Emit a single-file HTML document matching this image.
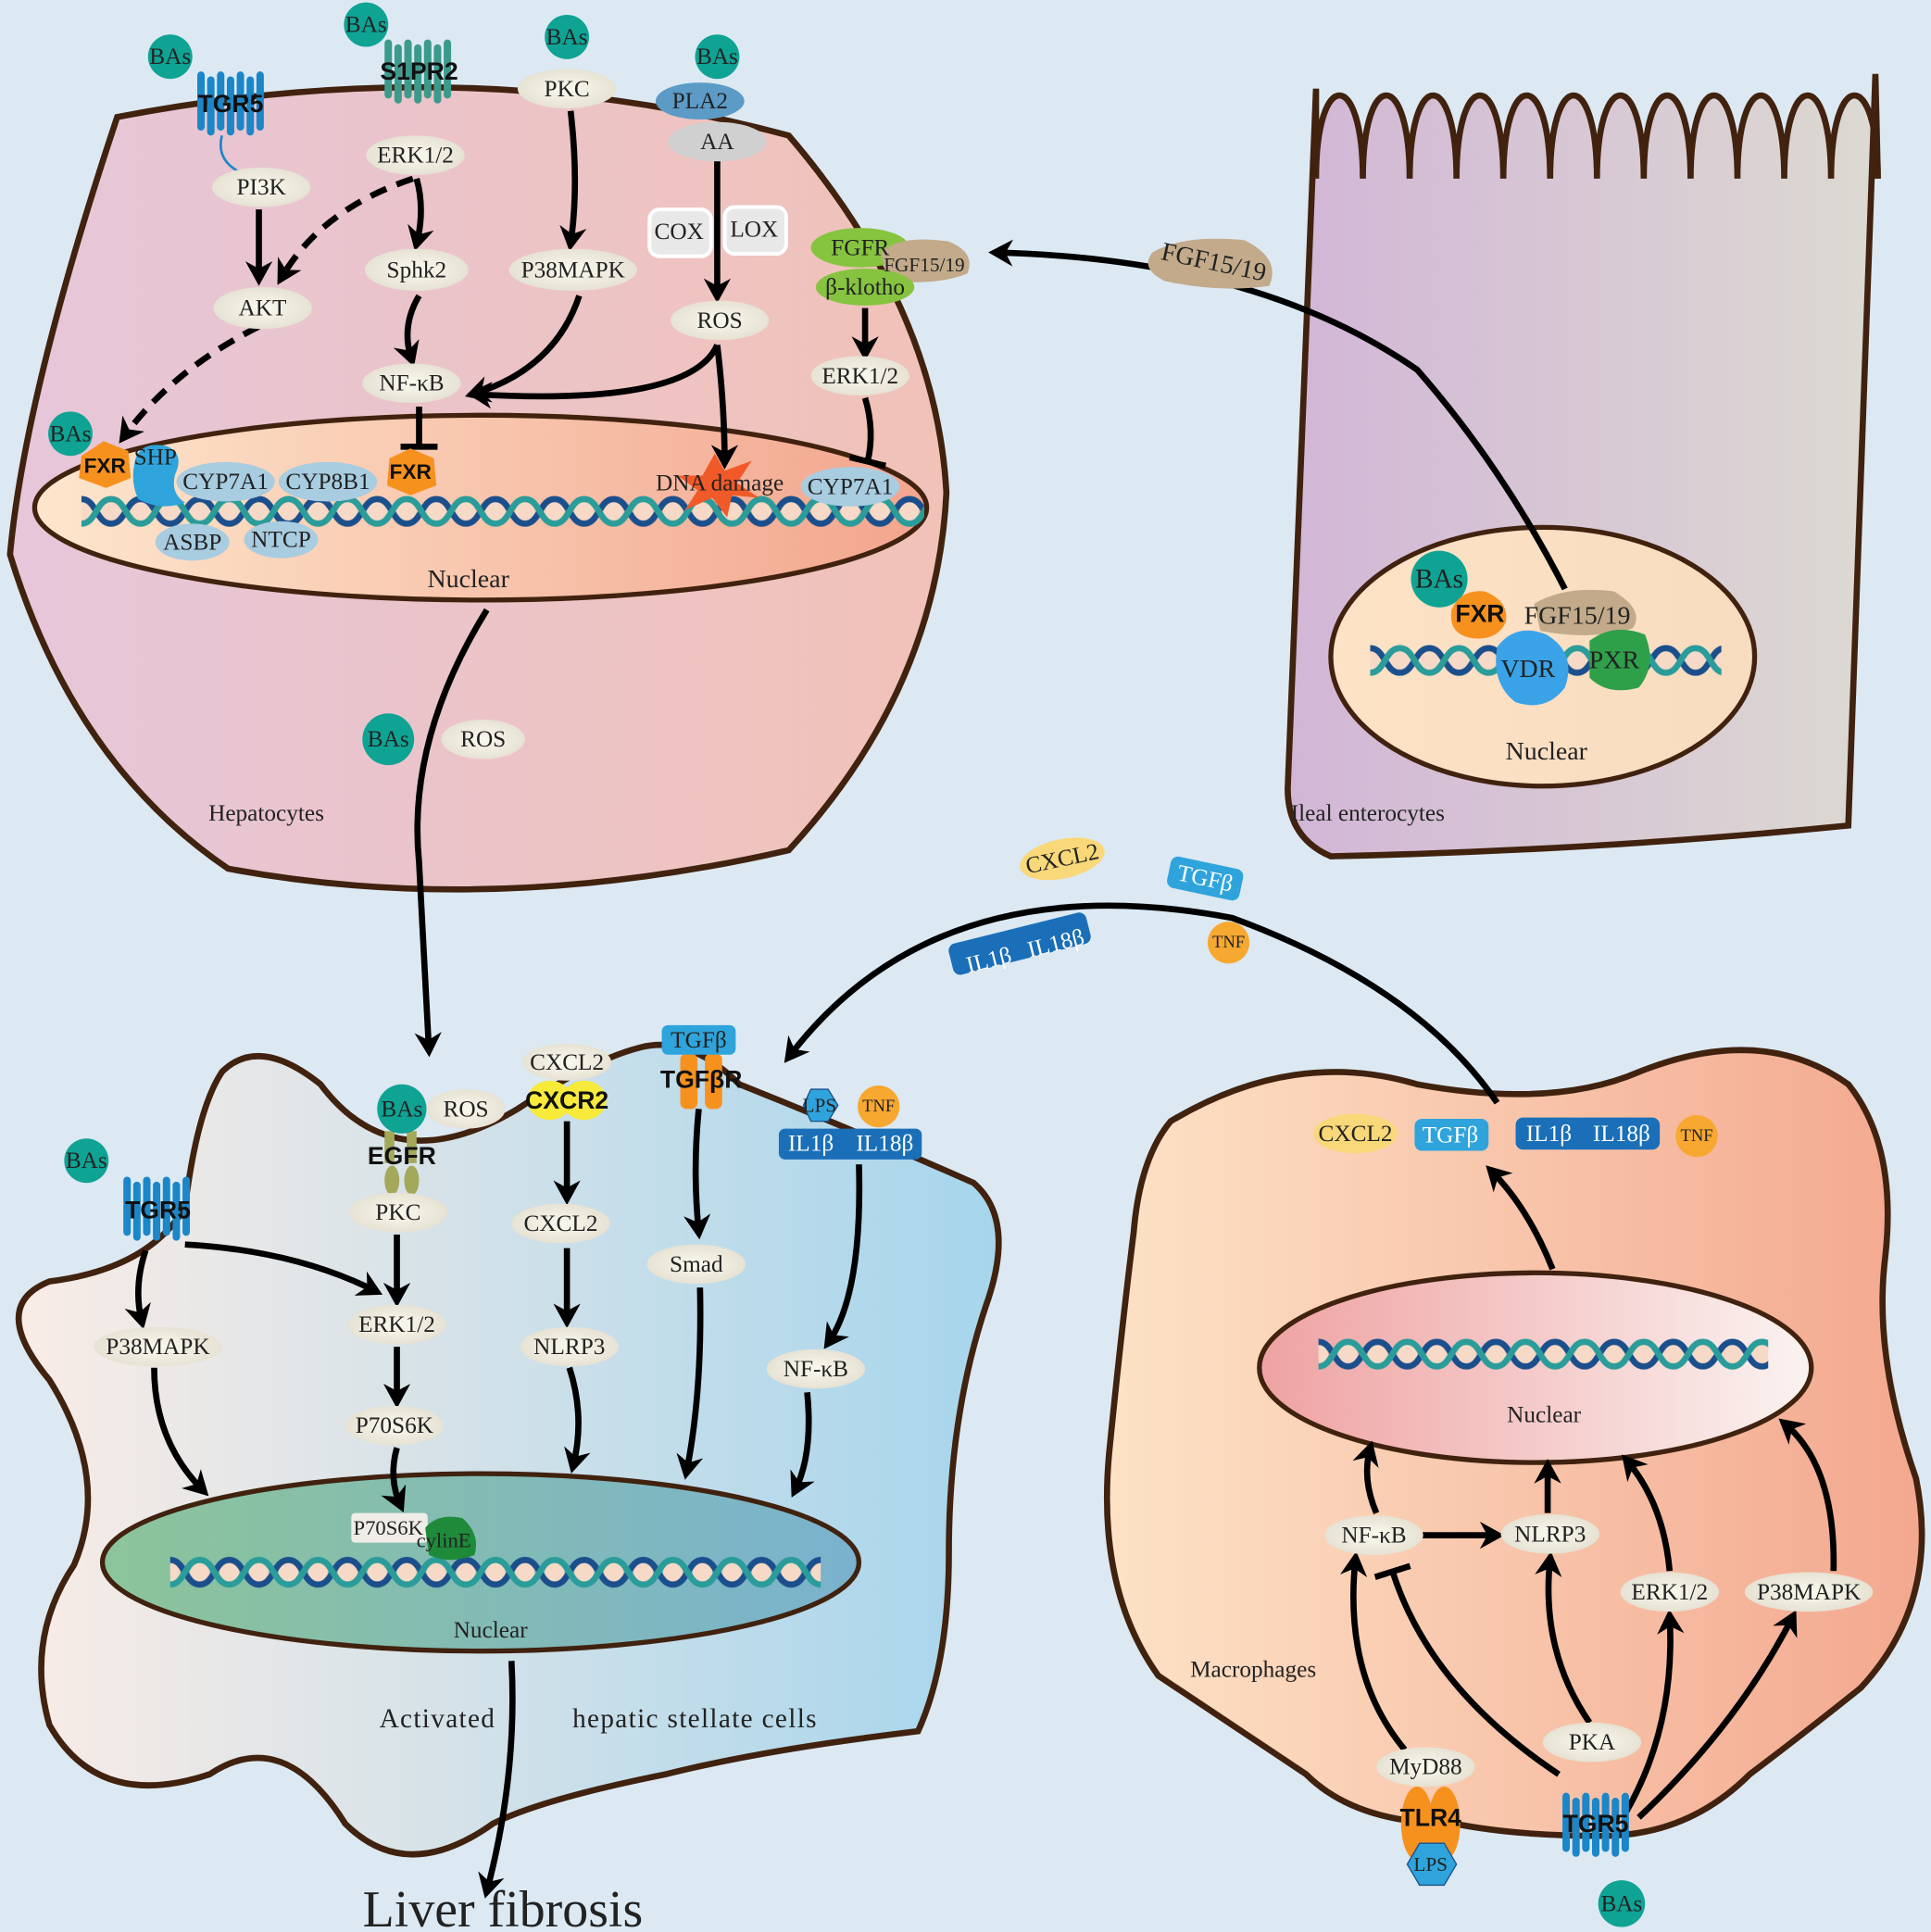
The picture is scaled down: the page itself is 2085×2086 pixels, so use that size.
<!DOCTYPE html>
<html><head><meta charset="utf-8"><style>
html,body{margin:0;padding:0;background:#dce9f3}
svg{display:block}
text{font-family:"Liberation Serif",serif;fill:#222}
.l{font-size:19px;text-anchor:middle;dominant-baseline:central}
.b{font-family:"Liberation Sans",sans-serif;font-weight:bold;font-size:20px;text-anchor:middle;dominant-baseline:central;fill:#111}
.a{fill:none;stroke:#000;stroke-width:5}
</style></head><body>
<svg width="2085" height="2086" viewBox="0 0 1567 1568" xmlns="http://www.w3.org/2000/svg">
<defs>
<marker id="ar" markerWidth="22" markerHeight="22" refX="14" refY="11" orient="auto" markerUnits="userSpaceOnUse"><path d="M0 0 L20 11 L0 22 L6 11Z" fill="#000"/></marker>
<marker id="tb" markerWidth="6" markerHeight="30" refX="3" refY="15" orient="auto" markerUnits="userSpaceOnUse"><rect x="0" y="0" width="5" height="30" fill="#000"/></marker>
<linearGradient id="gh" x1="0" x2="1"><stop offset="0" stop-color="#e6c6d9"/><stop offset="1" stop-color="#f1c2b8"/></linearGradient>
<linearGradient id="ghn" x1="0" x2="1"><stop offset="0" stop-color="#fde6cc"/><stop offset="1" stop-color="#f3a58e"/></linearGradient>
<linearGradient id="ge" x1="0" x2="1"><stop offset="0" stop-color="#d2b6d6"/><stop offset="1" stop-color="#dcd9d2"/></linearGradient>
<linearGradient id="gen" x1="0" x2="1"><stop offset="0" stop-color="#fde2c6"/><stop offset="1" stop-color="#f8dcc0"/></linearGradient>
<linearGradient id="gs" x1="0" x2="1"><stop offset="0" stop-color="#f9ece6"/><stop offset="1" stop-color="#a6d5ec"/></linearGradient>
<linearGradient id="gsn" x1="0" x2="1"><stop offset="0" stop-color="#8cc49a"/><stop offset="1" stop-color="#7ab2cf"/></linearGradient>
<linearGradient id="gm" x1="0" x2="1"><stop offset="0" stop-color="#fde2c6"/><stop offset="1" stop-color="#f3a88f"/></linearGradient>
<linearGradient id="gmn" x1="0" x2="1"><stop offset="0" stop-color="#efa2a2"/><stop offset="1" stop-color="#faf3f1"/></linearGradient>
<radialGradient id="lb"><stop offset="0" stop-color="#fbf9ee"/><stop offset="1" stop-color="#e6e2d4"/></radialGradient>
<pattern id="dna" width="48" height="28" patternUnits="userSpaceOnUse">
<circle cx="0" cy="14" r="8" fill="#f6d9c6"/><circle cx="24" cy="14" r="8" fill="#f6d9c6"/><circle cx="48" cy="14" r="8" fill="#f6d9c6"/>
<path d="M0 4 C12 4 12 24 24 24 C36 24 36 4 48 4" fill="none" stroke="#1b4f8c" stroke-width="5"/>
<path d="M0 24 C12 24 12 4 24 4 C36 4 36 24 48 24" fill="none" stroke="#2a9c9a" stroke-width="5"/>
</pattern>
<g id="rc"><rect x="0" y="0" width="6" height="48" rx="3"/><rect x="8" y="4" width="6" height="48" rx="3"/><rect x="16" y="0" width="6" height="48" rx="3"/><rect x="24" y="4" width="6" height="48" rx="3"/><rect x="32" y="0" width="6" height="48" rx="3"/><rect x="40" y="4" width="6" height="48" rx="3"/><rect x="48" y="0" width="6" height="48" rx="3"/></g>
</defs>
<rect width="1567" height="1568" fill="#dce9f3"/>

<!-- Hepatocyte -->
<path d="M95 95 Q380 40 640 110 Q760 250 768 400 Q760 560 640 690 Q400 745 185 705 Q60 620 8 450 Q20 320 95 95Z" fill="url(#gh)" stroke="#40220f" stroke-width="5"/>
<ellipse cx="390" cy="412" rx="362" ry="75" fill="url(#ghn)" stroke="#40220f" stroke-width="4"/>
<g transform="translate(66,401)"><rect width="684" height="28" fill="url(#dna)"/></g>

<!-- Enterocyte -->
<path d="M1068 72 L1068 145 c0 -90 38 -90 38 0 c0 -90 38 -90 38 0 c0 -90 38 -90 38 0 c0 -90 38 -90 38 0 c0 -90 38 -90 38 0 c0 -90 38 -90 38 0 c0 -90 38 -90 38 0 c0 -90 38 -90 38 0 c0 -90 38 -90 38 0 c0 -90 38 -90 38 0 c0 -90 38 -90 38 0 c0 -90 38 -90 38 0 L1522 60 L1500 670 Q1300 690 1080 695 Q1045 680 1045 640 L1068 72Z" fill="url(#ge)" stroke="#40220f" stroke-width="5"/>
<ellipse cx="1252" cy="533" rx="172" ry="105" fill="url(#gen)" stroke="#40220f" stroke-width="4"/>
<g transform="translate(1112,522)"><rect width="285" height="28" fill="url(#dna)"/></g>

<!-- HSC -->
<path d="M180 870 Q210 840 260 880 Q320 960 420 900 Q480 860 520 850 Q560 840 600 880 Q700 920 790 960 Q825 990 800 1060 Q770 1150 770 1260 Q770 1350 745 1405 Q620 1420 540 1440 Q440 1460 400 1480 Q330 1530 280 1480 Q230 1400 170 1440 Q80 1470 40 1400 Q20 1330 60 1270 Q90 1200 40 1120 Q-10 1060 40 1040 Q120 1030 150 980 Q160 900 180 870Z" fill="url(#gs)" stroke="#40220f" stroke-width="5"/>
<ellipse cx="390" cy="1268" rx="307" ry="72" fill="url(#gsn)" stroke="#40220f" stroke-width="4"/>
<g transform="translate(138,1262)"><rect width="528" height="28" fill="url(#dna)"/></g>

<!-- Macrophage -->
<path d="M950 910 Q1050 850 1150 880 Q1260 900 1330 870 Q1430 830 1500 880 Q1540 930 1530 1020 Q1520 1100 1555 1200 Q1575 1300 1510 1370 Q1460 1410 1420 1440 Q1370 1490 1300 1490 Q1230 1490 1180 1480 Q1100 1480 1060 1440 Q1000 1400 940 1360 Q890 1290 900 1180 Q910 1080 920 1000 Q925 940 950 910Z" fill="url(#gm)" stroke="#40220f" stroke-width="5"/>
<ellipse cx="1246" cy="1110" rx="224" ry="77" fill="url(#gmn)" stroke="#40220f" stroke-width="4"/>
<g transform="translate(1070,1085)"><rect width="365" height="28" fill="url(#dna)"/></g>

<!-- Big arrows -->
<path class="a" d="M395 495 Q330 600 340 700 Q345 790 348 852" marker-end="url(#ar)"/>
<path class="a" d="M1270 478 Q1220 380 1150 300 Q1020 210 808 205" marker-end="url(#ar)"/>
<path class="a" d="M1215 895 Q1150 800 1000 745 Q760 700 640 858" marker-end="url(#ar)"/>
<path class="a" d="M415 1348 Q420 1440 395 1535" marker-end="url(#ar)"/>

<!-- Hepatocyte arrows -->
<path class="a" d="M210 170 L210 226" marker-end="url(#ar)"/>
<path class="a" d="M335 145 Q260 170 228 226" stroke-dasharray="14 9" marker-end="url(#ar)"/>
<path class="a" d="M338 145 Q345 170 338 198" marker-end="url(#ar)"/>
<path class="a" d="M340 240 Q325 265 334 292" marker-end="url(#ar)"/>
<path class="a" d="M463 90 Q470 150 463 198" marker-end="url(#ar)"/>
<path class="a" d="M470 240 Q450 300 383 320" marker-end="url(#ar)"/>
<path class="a" d="M582 130 L582 240" marker-end="url(#ar)"/>
<path class="a" d="M582 280 Q560 330 385 320" marker-end="url(#ar)"/>
<path class="a" d="M582 280 Q588 330 588 375" marker-end="url(#ar)"/>
<path class="a" d="M210 265 Q140 300 100 355" stroke-dasharray="14 9" marker-end="url(#ar)"/>
<path class="a" d="M340 330 L340 363" marker-end="url(#tb)"/>
<path class="a" d="M702 250 L702 287" marker-end="url(#ar)"/>
<path class="a" d="M702 323 Q710 350 704 375" marker-end="url(#tb)"/>

<!-- HSC arrows -->
<path class="a" d="M118 1015 Q108 1045 115 1073" marker-end="url(#ar)"/>
<path class="a" d="M150 1010 Q240 1015 305 1048" marker-end="url(#ar)"/>
<path class="a" d="M322 1002 L322 1055" marker-end="url(#ar)"/>
<path class="a" d="M322 1093 L322 1137" marker-end="url(#ar)"/>
<path class="a" d="M322 1175 Q315 1200 325 1222" marker-end="url(#ar)"/>
<path class="a" d="M125 1110 Q125 1170 165 1210" marker-end="url(#ar)"/>
<path class="a" d="M460 910 L460 972" marker-end="url(#ar)"/>
<path class="a" d="M460 1013 L460 1072" marker-end="url(#ar)"/>
<path class="a" d="M462 1110 Q475 1150 465 1190" marker-end="url(#ar)"/>
<path class="a" d="M567 900 Q562 950 567 1000" marker-end="url(#ar)"/>
<path class="a" d="M568 1045 Q570 1130 557 1195" marker-end="url(#ar)"/>
<path class="a" d="M697 945 Q700 1050 672 1090" marker-end="url(#ar)"/>
<path class="a" d="M655 1130 Q660 1180 645 1210" marker-end="url(#ar)"/>

<!-- Macrophage arrows -->
<path class="a" d="M1260 1030 Q1240 980 1210 950" marker-end="url(#ar)"/>
<path class="a" d="M1150 1246 L1215 1246" marker-end="url(#ar)"/>
<path class="a" d="M1117 1228 Q1105 1200 1112 1175" marker-end="url(#ar)"/>
<path class="a" d="M1256 1228 L1256 1190" marker-end="url(#ar)"/>
<path class="a" d="M1355 1275 Q1350 1220 1320 1185" marker-end="url(#ar)"/>
<path class="a" d="M1488 1275 Q1490 1190 1448 1155" marker-end="url(#ar)"/>
<path class="a" d="M1140 1420 Q1090 1360 1100 1265" marker-end="url(#ar)"/>
<path class="a" d="M1265 1440 Q1160 1370 1130 1275" marker-end="url(#tb)"/>
<path class="a" d="M1290 1398 Q1250 1340 1258 1265" marker-end="url(#ar)"/>
<path class="a" d="M1320 1470 Q1360 1400 1355 1312" marker-end="url(#ar)"/>
<path class="a" d="M1330 1475 Q1410 1400 1455 1312" marker-end="url(#ar)"/>

<!-- Receptors -->
<g fill="#1b86c8"><use href="#rc" x="160" y="58"/></g><text class="b" x="187" y="84">TGR5</text>
<path d="M180 110 Q175 130 195 140" fill="none" stroke="#1b86c8" stroke-width="2"/>
<g fill="#3c9a8c"><use href="#rc" x="312" y="32"/></g><text class="b" x="340" y="58">S1PR2</text>
<g fill="#1b86c8"><use href="#rc" x="100" y="955"/></g><text class="b" x="128" y="982">TGR5</text>
<g fill="#1b86c8"><use href="#rc" x="1268" y="1455"/></g><text class="b" x="1295" y="1480">TGR5</text>
<g fill="#a4a85a"><ellipse cx="318" cy="958" rx="6" ry="12"/><ellipse cx="334" cy="958" rx="6" ry="12"/><rect x="312" y="918" width="8" height="26"/><rect x="330" y="918" width="8" height="26"/></g>
<text class="b" x="326" y="938">EGFR</text>
<g fill="#f7911e"><rect x="552" y="855" width="14" height="45" rx="5"/><rect x="572" y="855" width="14" height="45" rx="5"/></g>
<text class="b" x="569" y="876">TGFβR</text>
<g fill="#f7ea3a"><ellipse cx="446" cy="893" rx="18" ry="16"/><ellipse cx="474" cy="893" rx="18" ry="16"/></g>
<text class="b" x="460" y="893">CXCR2</text>
<g fill="#f7911e"><ellipse cx="1150" cy="1480" rx="13" ry="30"/><ellipse cx="1172" cy="1480" rx="13" ry="30"/></g>
<text class="b" x="1161" y="1475">TLR4</text>

<!-- BAs circles -->
<g fill="#0fa394">
<circle cx="138" cy="46" r="18"/><circle cx="297" cy="20" r="18"/><circle cx="460" cy="30" r="18"/><circle cx="582" cy="46" r="18"/><circle cx="57" cy="352" r="18"/><circle cx="315" cy="600" r="21"/><circle cx="1168" cy="470" r="23"/><circle cx="70" cy="942" r="18"/><circle cx="326" cy="900" r="20"/><circle cx="1316" cy="1545" r="19"/>
</g>
<text class="l" x="138" y="46">BAs</text><text class="l" x="297" y="20">BAs</text><text class="l" x="460" y="30">BAs</text><text class="l" x="582" y="46">BAs</text><text class="l" x="57" y="352">BAs</text><text class="l" x="315" y="600">BAs</text><text class="l" x="1168" y="470" style="font-size:22px">BAs</text><text class="l" x="70" y="942">BAs</text><text class="l" x="326" y="900">BAs</text><text class="l" x="1316" y="1545">BAs</text>

<!-- light labels -->
<g fill="url(#lb)">
<ellipse cx="460" cy="72" rx="40" ry="16"/><ellipse cx="337" cy="126" rx="40" ry="16"/><ellipse cx="212" cy="152" rx="40" ry="16"/><ellipse cx="338" cy="219" rx="42" ry="17"/><ellipse cx="465" cy="219" rx="52" ry="17"/><ellipse cx="213" cy="250" rx="40" ry="17"/><ellipse cx="584" cy="260" rx="40" ry="16"/><ellipse cx="698" cy="305" rx="40" ry="16"/><ellipse cx="334" cy="311" rx="40" ry="16"/><ellipse cx="392" cy="600" rx="34" ry="16"/>
<ellipse cx="378" cy="900" rx="32" ry="16"/><ellipse cx="460" cy="862" rx="36" ry="15"/><ellipse cx="323" cy="984" rx="40" ry="16"/><ellipse cx="455" cy="993" rx="40" ry="16"/><ellipse cx="565" cy="1026" rx="40" ry="16"/><ellipse cx="322" cy="1075" rx="40" ry="16"/><ellipse cx="462" cy="1093" rx="40" ry="16"/><ellipse cx="128" cy="1093" rx="52" ry="16"/><ellipse cx="662" cy="1111" rx="40" ry="16"/><ellipse cx="320" cy="1157" rx="40" ry="16"/>
<ellipse cx="1115" cy="1246" rx="40" ry="16"/><ellipse cx="1258" cy="1245" rx="40" ry="16"/><ellipse cx="1355" cy="1292" rx="40" ry="16"/><ellipse cx="1468" cy="1292" rx="52" ry="16"/><ellipse cx="1292" cy="1414" rx="40" ry="16"/><ellipse cx="1157" cy="1434" rx="40" ry="16"/>
</g>
<ellipse cx="568" cy="82" rx="36" ry="15" fill="#5d9bc7"/>
<ellipse cx="582" cy="115" rx="40" ry="16" fill="#d0d0d0"/>
<rect x="527" y="170" width="50" height="38" rx="8" fill="#e8e8e8" stroke="#fff" stroke-width="3"/>
<rect x="588" y="168" width="50" height="38" rx="8" fill="#e8e8e8" stroke="#fff" stroke-width="3"/>
<ellipse cx="698" cy="201" rx="40" ry="16" fill="#86c440"/>
<path d="M715 205 Q730 190 770 196 Q792 205 785 222 Q760 232 720 228Z" fill="#c2aa8a"/>
<ellipse cx="702" cy="233" rx="40" ry="15" fill="#86c440"/>

<!-- nucleus items hepatocyte -->
<path d="M110 372 Q115 358 135 362 Q150 368 142 385 Q138 400 150 408 Q130 415 112 405 Q105 390 110 372Z" fill="#2fa4dc"/>
<path d="M66 370 L84 358 L104 366 L106 388 L86 396 L64 388Z" fill="#f7911e"/>
<ellipse cx="183" cy="391" rx="40" ry="16" fill="#a8cce0"/><ellipse cx="266" cy="391" rx="40" ry="16" fill="#a8cce0"/>
<path d="M316 372 L333 364 L352 372 L354 394 L333 402 L314 394Z" fill="#f7911e"/>
<path d="M580 368 L588 382 L610 374 L598 392 L616 404 L594 402 L590 420 L578 404 L556 414 L566 398 L550 386 L570 386Z" fill="#f05a28"/>
<ellipse cx="690" cy="395" rx="40" ry="16" fill="#a8cce0"/>
<ellipse cx="156" cy="440" rx="30" ry="15" fill="#a8cce0"/><ellipse cx="228" cy="438" rx="30" ry="15" fill="#a8cce0"/>

<!-- enterocyte nucleus items -->
<path d="M1178 495 Q1185 478 1205 480 Q1225 488 1222 505 Q1215 520 1195 518 Q1175 515 1178 495Z" fill="#f7911e"/>
<path d="M1245 490 Q1270 475 1310 480 Q1335 495 1325 510 Q1290 520 1250 512Z" fill="#c2aa8a"/>
<path d="M1290 520 Q1310 505 1335 515 Q1345 540 1330 558 Q1305 565 1290 550Z" fill="#2fa04a"/>
<path d="M1215 525 Q1230 505 1255 515 Q1280 530 1270 558 Q1255 578 1230 570 Q1210 555 1215 525Z" fill="#3aa3e8"/>
<path d="M935 205 Q960 190 1010 195 Q1040 210 1030 232 Q990 238 945 228 Q925 218 935 205Z" fill="#c2aa8a"/>

<!-- middle molecules -->
<ellipse cx="862" cy="697" rx="35" ry="16" fill="#f8d878" transform="rotate(-12 862 697)"/>
<rect x="948" y="700" width="60" height="26" rx="6" fill="#2fa4dc" transform="rotate(12 978 713)"/>
<rect x="770" y="753" width="115" height="26" rx="6" fill="#1a6fb8" transform="rotate(-14 827 766)"/>
<circle cx="997" cy="765" r="17" fill="#f7a830"/>

<!-- HSC molecules -->
<rect x="537" y="832" width="60" height="24" rx="5" fill="#2fa4dc"/>
<path d="M652 897 L658 884 L672 884 L680 897 L672 910 L658 910Z" fill="#2fa4dc" stroke="#1b4f8c"/>
<circle cx="713" cy="898" r="17" fill="#f7a830"/>
<rect x="632" y="916" width="116" height="25" rx="5" fill="#1a6fb8"/>
<rect x="285" y="1228" width="62" height="24" rx="3" fill="#f0ece8"/>
<path d="M345 1240 Q355 1228 375 1232 Q390 1245 385 1262 Q365 1270 348 1262Z" fill="#1e8a3a"/>

<!-- Macrophage molecules -->
<ellipse cx="1100" cy="920" rx="34" ry="16" fill="#f8d878"/>
<rect x="1148" y="908" width="60" height="26" rx="6" fill="#2fa4dc"/>
<rect x="1230" y="907" width="117" height="26" rx="6" fill="#1a6fb8"/>
<circle cx="1377" cy="922" r="17" fill="#f7a830"/>
<path d="M1142 1513 L1152 1496 L1172 1496 L1182 1513 L1172 1530 L1152 1530Z" fill="#2fa4dc" stroke="#1b4f8c"/>

<!-- Text labels -->
<text class="l" x="460" y="72">PKC</text>
<text class="l" x="568" y="82">PLA2</text>
<text class="l" x="582" y="115">AA</text>
<text class="l" x="337" y="126">ERK1/2</text>
<text class="l" x="212" y="152">PI3K</text>
<text class="l" x="551" y="188">COX</text>
<text class="l" x="612" y="186">LOX</text>
<text class="l" x="698" y="201">FGFR</text>
<text class="l" x="750" y="215" style="font-size:16px">FGF15/19</text>
<text class="l" x="702" y="233">β-klotho</text>
<text class="l" x="338" y="219">Sphk2</text>
<text class="l" x="465" y="219">P38MAPK</text>
<text class="l" x="213" y="250">AKT</text>
<text class="l" x="584" y="260">ROS</text>
<text class="l" x="698" y="305">ERK1/2</text>
<text class="l" x="334" y="311">NF-κB</text>
<text class="b" x="85" y="378" style="font-size:17px">FXR</text>
<text class="l" x="126" y="371">SHP</text>
<text class="l" x="183" y="391">CYP7A1</text>
<text class="l" x="266" y="391">CYP8B1</text>
<text class="b" x="333" y="383" style="font-size:17px">FXR</text>
<text class="l" x="584" y="392">DNA damage</text>
<text class="l" x="690" y="395">CYP7A1</text>
<text class="l" x="156" y="440">ASBP</text>
<text class="l" x="228" y="438">NTCP</text>
<text class="l" x="380" y="470" style="font-size:21px">Nuclear</text>
<text class="l" x="392" y="600">ROS</text>
<text class="l" x="216" y="660">Hepatocytes</text>

<text class="l" x="985" y="213" style="font-size:21px" transform="rotate(12 985 213)">FGF15/19</text>
<text class="b" x="1201" y="498">FXR</text>
<text class="l" x="1280" y="500" style="font-size:21px">FGF15/19</text>
<text class="l" x="1240" y="543" style="font-size:21px">VDR</text>
<text class="l" x="1310" y="536" style="font-size:21px">PXR</text>
<text class="l" x="1255" y="610" style="font-size:21px">Nuclear</text>
<text class="l" x="1110" y="660">Ileal enterocytes</text>

<text class="l" x="862" y="697" transform="rotate(-12 862 697)">CXCL2</text>
<text class="l" x="978" y="713" transform="rotate(12 978 713)" style="fill:#fff">TGFβ</text>
<text class="l" x="800" y="773" transform="rotate(-14 827 766)" style="fill:#fff">IL1β</text>
<text class="l" x="856" y="773" transform="rotate(-14 827 766)" style="fill:#fff">IL18β</text>
<text class="l" x="997" y="765" style="font-size:14px">TNF</text>

<text class="l" x="378" y="900">ROS</text>
<text class="l" x="460" y="862">CXCL2</text>
<text class="l" x="567" y="844">TGFβ</text>
<text class="l" x="665" y="897" style="font-size:16px">LPS</text>
<text class="l" x="713" y="898" style="font-size:14px">TNF</text>
<text class="l" x="658" y="928" style="fill:#fff">IL1β</text>
<text class="l" x="718" y="928" style="fill:#fff">IL18β</text>
<text class="l" x="323" y="984">PKC</text>
<text class="l" x="455" y="993">CXCL2</text>
<text class="l" x="565" y="1026">Smad</text>
<text class="l" x="322" y="1075">ERK1/2</text>
<text class="l" x="462" y="1093">NLRP3</text>
<text class="l" x="128" y="1093">P38MAPK</text>
<text class="l" x="662" y="1111">NF-κB</text>
<text class="l" x="320" y="1157">P70S6K</text>
<text class="l" x="315" y="1240" style="font-size:17px">P70S6K</text>
<text class="l" x="360" y="1250" style="font-size:17px">cylinE</text>
<text class="l" x="398" y="1323">Nuclear</text>
<text class="l" x="355" y="1395" style="font-size:22px;letter-spacing:1px">Activated</text>
<text class="l" x="564" y="1395" style="font-size:22px;letter-spacing:1px">hepatic stellate cells</text>
<text class="l" x="408" y="1550" style="font-size:42px">Liver fibrosis</text>

<text class="l" x="1100" y="920">CXCL2</text>
<text class="l" x="1177" y="921" style="fill:#fff">TGFβ</text>
<text class="l" x="1257" y="920" style="fill:#fff">IL1β</text>
<text class="l" x="1316" y="920" style="fill:#fff">IL18β</text>
<text class="l" x="1377" y="922" style="font-size:14px">TNF</text>
<text class="l" x="1253" y="1148">Nuclear</text>
<text class="l" x="1115" y="1246">NF-κB</text>
<text class="l" x="1258" y="1245">NLRP3</text>
<text class="l" x="1355" y="1292">ERK1/2</text>
<text class="l" x="1468" y="1292">P38MAPK</text>
<text class="l" x="1292" y="1414">PKA</text>
<text class="l" x="1157" y="1434">MyD88</text>
<text class="l" x="1161" y="1513" style="font-size:16px">LPS</text>
<text class="l" x="1017" y="1355">Macrophages</text>
</svg>
</body></html>
